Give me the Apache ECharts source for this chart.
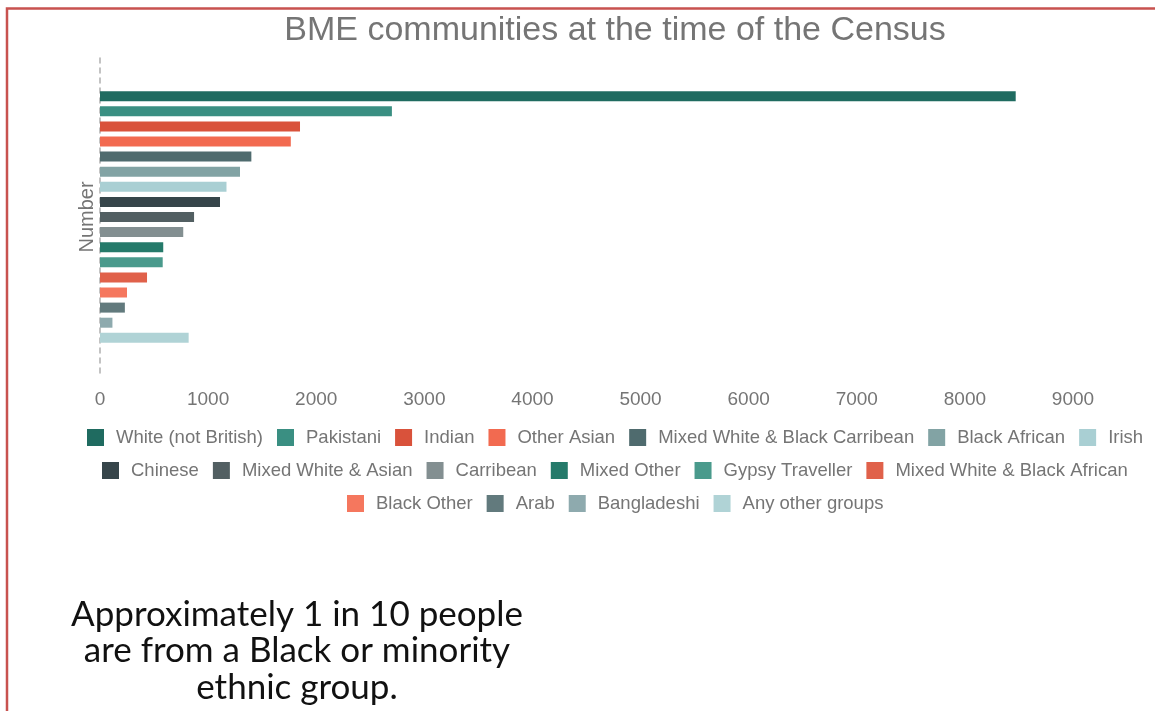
<!DOCTYPE html>
<html>
<head>
<meta charset="utf-8">
<title>BME communities at the time of the Census</title>
<script src="https://cdn.jsdelivr.net/npm/echarts@6/dist/echarts.min.js"></script>
<style>
  html, body { margin: 0; padding: 0; background: #ffffff; }
  #chart { width: 1155px; height: 711px; }
</style>
</head>
<body>
<div id="chart"></div>
<script>
// Census groups (one bar each) and their counts
const groups = [
  'White (not British)', 'Pakistani', 'Indian', 'Other Asian',
  'Mixed White & Black Carribean', 'Black African', 'Irish',
  'Chinese', 'Mixed White & Asian', 'Carribean', 'Mixed Other',
  'Gypsy Traveller', 'Mixed White & Black African',
  'Black Other', 'Arab', 'Bangladeshi', 'Any other groups'
];
const counts = [8470, 2700, 1850, 1765, 1400, 1295, 1170, 1110, 870, 770, 585, 580, 435, 250, 230, 115, 820];
const groupColors = [
  '#1f6b60', '#3a8f82', '#d9523b', '#f26a50', '#4f6b6e', '#82a3a4', '#a9cfd3',
  '#36454a', '#525f62', '#838f91', '#257a6a', '#4a9a8c', '#e0614a',
  '#f5775e', '#627a7d', '#8eaaae', '#b0d3d6'
];
const categoryLabels = ['Number'];
const xTicks = { min: 0, max: 9000, interval: 1000 };
const legendRows = [groups.slice(0, 7), groups.slice(7, 13), groups.slice(13)];
const noteLines = ['Approximately 1 in 10 people', 'are from a Black or minority', 'ethnic group.'];

const grey = '#757575';
const sansFont = 'Liberation Sans, Arial, sans-serif';
const centreX = 615;

// Legend layout settings
const legendFontSize = 18.5;
const iconSize = 17;
const itemGap = 14;
const textPadLeft = 7;

// Width of one legend row, so each row can be centred on the chart body
const measureCtx = document.createElement('canvas').getContext('2d');
measureCtx.font = legendFontSize + 'px ' + sansFont;
function rowWidth(row) {
  let w = 0;
  row.forEach((name, i) => {
    w += iconSize + 5 + textPadLeft + measureCtx.measureText(name).width;
    if (i > 0) w += itemGap;
  });
  return w;
}

const chart = echarts.init(document.getElementById('chart'), null, { renderer: 'canvas' });

chart.setOption({
  animation: false,
  title: {
    text: 'BME communities at the time of the Census',
    left: centreX - 5,
    top: 9,
    textAlign: 'center',
    textStyle: { color: grey, fontSize: 34, fontWeight: 'normal', fontFamily: sansFont }
  },
  legend: legendRows.map((row, i) => ({
    data: row,
    top: 428 + i * 33,
    left: Math.round(centreX - rowWidth(row) / 2),
    padding: 0,
    itemWidth: iconSize,
    itemHeight: iconSize,
    itemGap: itemGap,
    icon: 'rect',
    textStyle: { color: grey, fontSize: legendFontSize, fontFamily: sansFont, padding: [0, 0, 0, textPadLeft] }
  })),
  grid: { left: 100, right: 82, top: 58, bottom: 335 },
  xAxis: {
    type: 'value',
    min: xTicks.min,
    max: xTicks.max,
    interval: xTicks.interval,
    axisLine: { show: false },
    axisTick: { show: false },
    splitLine: { show: false },
    axisLabel: {
      color: grey, fontSize: 19, margin: 14, fontFamily: sansFont,
      formatter: v => String(v)
    }
  },
  yAxis: {
    type: 'category',
    data: categoryLabels,
    inverse: true,
    axisTick: { show: false },
    axisLine: { show: true, lineStyle: { color: '#b0b0b0', type: [5, 5], width: 1.5 } },
    axisLabel: { rotate: 90, color: grey, fontSize: 20, margin: 3, fontFamily: sansFont }
  },
  series: groups.map((name, i) => ({
    name: name,
    type: 'bar',
    data: [counts[i]],
    barWidth: 10,
    barGap: '51%',
    itemStyle: { color: groupColors[i] }
  })),
  graphic: [
    {
      type: 'rect',
      shape: { x: 7, y: 8.5, width: 1300, height: 900 },
      style: { fill: 'none', stroke: '#c8524f', lineWidth: 2.5 },
      silent: true
    },
    {
      type: 'text',
      x: 297,
      y: 596,
      silent: true,
      style: {
        text: noteLines.join('\n'),
        align: 'center',
        verticalAlign: 'top',
        fill: '#111111',
        fontSize: 35,
        lineHeight: 36.5,
        fontFamily: 'Lato, sans-serif'
      }
    }
  ]
});
</script>
</body>
</html>
